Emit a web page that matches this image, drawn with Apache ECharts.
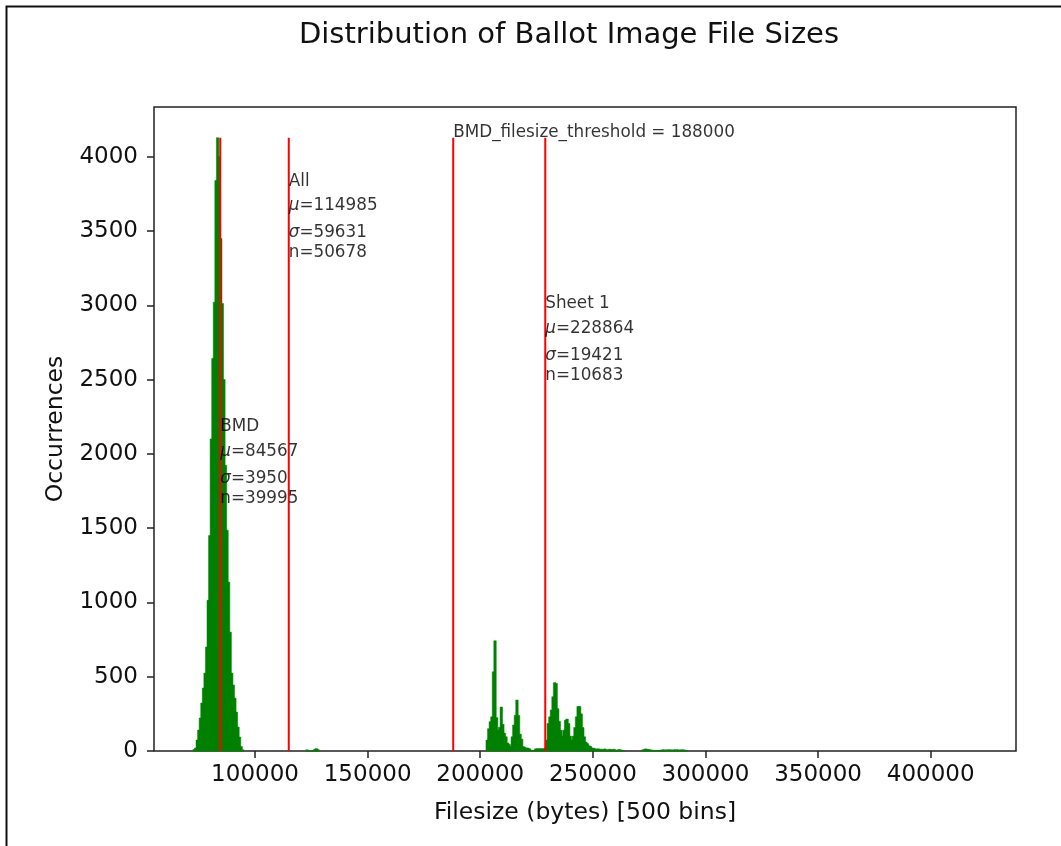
<!DOCTYPE html>
<html>
<head>
<meta charset="utf-8">
<script src="https://cdn.jsdelivr.net/npm/echarts@6/dist/echarts.min.js"></script>
<style>
  html, body { margin: 0; padding: 0; background: #fff; }
  #chart { width: 1061px; height: 846px; }
</style>
</head>
<body>
<div id="chart"></div>
<script>
// ---------- data ----------
const binCount = 500;
const histMin = 72546;
const histMax = 420473;

// histogram counts per bin, in segments (start bin index + counts)
const bmdStartBin = 0;
const bmdCounts = [10, 20, 74, 141, 222, 323, 424, 524, 700, 1015, 1450, 2100, 2642, 3021, 3839, 4128, 4000, 3449, 3012, 2500, 1923, 1486, 1136, 800, 524, 444, 356, 262, 161, 94, 30, 8];

const gapStartBin = 72;
const gapCounts = [8, 0, 0, 0, 0, 12, 16, 10];

const sheetStartBin = 187;
const sheetCounts = [74, 150, 197, 230, 533, 742, 225, 141, 160, 296, 180, 120, 96, 54, 45, 30, 96, 175, 240, 343, 240, 114, 80, 30, 25, 20, 20, 15, 5, 5, 3, 15,
  15, 15, 15, 15, 15, 20, 74, 185, 230, 276, 365, 460, 455, 285, 200, 140, 100, 140, 208, 215, 185, 100, 74, 100, 158, 230, 300, 300, 250, 158, 96, 60, 50, 35, 30, 20, 18, 15, 12, 15,
  10, 12, 8, 14, 10, 6, 12, 10, 8, 12, 6, 4, 10, 8, 5, 3];

const farStartBin = 286;
const farCounts = [6, 10, 14, 12, 10, 8, 6, 4, 3, 2, 4, 3, 6, 8, 8, 6, 8, 8, 8, 6, 8, 8, 8, 8, 6, 8, 8, 6, 4];

// vertical reference lines
const vlineNames = ['BMD', 'All', 'Sheet 1', 'BMD_filesize_threshold'];
const vlineX = [84567, 114985, 228864, 188000];

// annotation texts
const groupNames = ['BMD', 'All', 'Sheet 1'];
const groupMu = [84567, 114985, 228864];
const groupSigma = [3950, 59631, 19421];
const groupN = [39995, 50678, 10683];
const groupTextY = [2239, 3892, 3066];
const thresholdValue = 188000;
const thresholdTextY = 4218;

const xTicks = [100000, 150000, 200000, 250000, 300000, 350000, 400000];
const yTicks = [0, 500, 1000, 1500, 2000, 2500, 3000, 3500, 4000];

// ---------- build ----------
const binWidth = (histMax - histMin) / binCount;
const histData = [];
function addSegment(start, counts) {
  counts.forEach((c, k) => {
    const b = start + k;
    const x0 = histMin + b * binWidth;
    histData.push([x0, x0 + binWidth, c]);
  });
}
addSegment(bmdStartBin, bmdCounts);
addSegment(gapStartBin, gapCounts);
addSegment(sheetStartBin, sheetCounts);
addSegment(farStartBin, farCounts);

const maxCount = Math.max(...histData.map(d => d[2]));
const span = histMax - histMin;
const xMin = histMin - 0.05 * span;
const xMax = histMax + 0.05 * span;
const yMax = maxCount * 1.05;

const FONT = "'DejaVu Sans', 'Liberation Sans', sans-serif";
const TXT = '#111';
const annFont = 16.8;

const lineSeries = vlineX.map((x, i) => ({
  name: vlineNames[i],
  type: 'line',
  data: [[x, 0], [x, maxCount]],
  symbol: 'none',
  silent: true,
  lineStyle: { color: '#ff0000', width: 2 },
  z: 3
}));

const annData = groupNames.map((g, i) => ({
  value: [groupMu[i], groupTextY[i]],
  label: {
    formatter: `{t|${g}}\n{m|μ}{v2|=${groupMu[i]}}\n{s|σ}{v3|=${groupSigma[i]}}\n{v4|n=${groupN[i]}}`
  }
}));
annData.push({
  value: [thresholdValue, thresholdTextY],
  label: { formatter: `{t|BMD_filesize_threshold = ${thresholdValue}}` }
});

const richBase = { fontFamily: FONT, fontSize: annFont, color: '#000' };

const chart = echarts.init(document.getElementById('chart'));
chart.setOption({
  animation: false,
  backgroundColor: '#fff',
  textStyle: { fontFamily: FONT },
  title: {
    text: 'Distribution of Ballot Image File Sizes',
    left: 564,
    textAlign: 'center',
    top: 16,
    textStyle: { fontFamily: FONT, fontSize: 29, fontWeight: 'normal', color: TXT }
  },
  graphic: [{
    type: 'rect',
    shape: { x: 6.5, y: 6.5, width: 1100, height: 900 },
    style: { fill: null, stroke: '#111', lineWidth: 2 },
    silent: true
  }],
  grid: {
    left: 154, right: 45, top: 107, bottom: 95,
    show: true, borderColor: '#222', borderWidth: 1.5, backgroundColor: 'transparent'
  },
  xAxis: {
    type: 'value',
    min: xMin, max: xMax,
    name: 'Filesize (bytes) [500 bins]',
    nameLocation: 'middle',
    nameGap: 50,
    nameTextStyle: { fontFamily: FONT, fontSize: 23.5, color: TXT },
    axisLine: { show: false },
    splitLine: { show: false },
    axisTick: { show: true, length: 7, customValues: xTicks, lineStyle: { color: '#222', width: 1.5 } },
    axisLabel: { customValues: xTicks, fontFamily: FONT, fontSize: 23, color: TXT, margin: 13, formatter: v => String(v) }
  },
  yAxis: {
    type: 'value',
    min: 0, max: yMax,
    name: 'Occurrences',
    nameLocation: 'middle',
    nameGap: 86,
    nameTextStyle: { fontFamily: FONT, fontSize: 23.5, color: TXT },
    axisLine: { show: false },
    splitLine: { show: false },
    axisTick: { show: true, length: 7, customValues: yTicks, lineStyle: { color: '#222', width: 1.5 } },
    axisLabel: { customValues: yTicks, fontFamily: FONT, fontSize: 23, color: TXT, margin: 16, formatter: v => String(v) }
  },
  series: [
    {
      name: 'hist',
      type: 'custom',
      encode: { x: [0, 1], y: 2 },
      data: histData,
      silent: true,
      z: 2,
      renderItem: function (params, api) {
        const p0 = api.coord([api.value(0), api.value(2)]);
        const p1 = api.coord([api.value(1), 0]);
        return {
          type: 'rect',
          shape: { x: p0[0] - 0.3, y: p0[1], width: p1[0] - p0[0] + 0.9, height: p1[1] - p0[1] },
          style: { fill: '#008000', stroke: '#008000', lineWidth: 0.5 }
        };
      }
    },
    ...lineSeries,
    {
      name: 'annotations',
      type: 'scatter',
      symbolSize: 0,
      silent: true,
      z: 5,
      data: annData,
      label: {
        show: true,
        position: [0, 0],
        align: 'left',
        verticalAlign: 'top',
        color: '#000',
        fontFamily: FONT,
        fontSize: annFont,
        rich: {
          t: Object.assign({}, richBase, { lineHeight: 17 }),
          m: Object.assign({}, richBase, { fontStyle: 'italic', lineHeight: 32 }),
          v2: Object.assign({}, richBase, { lineHeight: 32 }),
          s: Object.assign({}, richBase, { fontStyle: 'italic', lineHeight: 22 }),
          v3: Object.assign({}, richBase, { lineHeight: 22 }),
          v4: Object.assign({}, richBase, { lineHeight: 18 })
        }
      }
    }
  ]
});
</script>
</body>
</html>
